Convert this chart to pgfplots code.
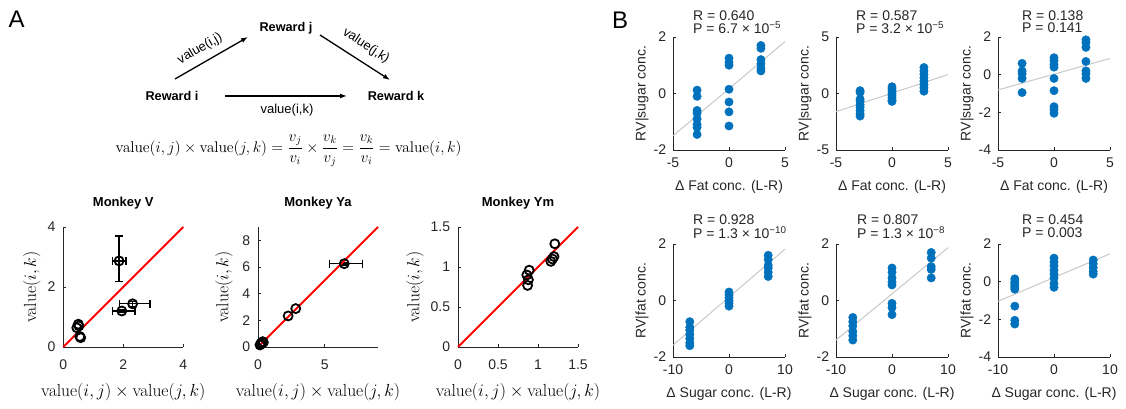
\RequirePackage{fix-cm}
\documentclass[border=0pt]{standalone}
\usepackage[no-math]{fontspec}
\setmainfont{Liberation Sans}
\usepackage{pgfplots}
\pgfplotsset{compat=1.18}
\usetikzlibrary{arrows.meta}
\definecolor{axgray}{RGB}{38,38,38}
\definecolor{mblue}{RGB}{0,114,189}
\definecolor{trend}{RGB}{200,200,200}
\newcommand\fs[1]{\fontsize{#1}{#1}\selectfont}
\pgfplotsset{
  base/.style={
    scale only axis, axis lines=left,
    axis line style={-, draw=axgray, line width=0.8pt},
    every tick/.style={draw=axgray, line width=0.6pt},
    tick align=inside, major tick length=2.5pt,
    tick label style={font={\fs{14}}, text=axgray},
    /pgf/number format/assume math mode=true,
    clip=false, anchor=south west,
  },
  panA/.style={base, width=120pt, height=120pt,
    xticklabel style={yshift=-9pt}, yticklabel style={xshift=-4.3pt},
    title style={font={\fs{13}\bfseries}, anchor=center, at={(axis description cs:0.5,1.15)}},
    xlabel style={font={\fs{17.5}}, anchor=center, at={(axis description cs:0.5,-0.375)}},
    ylabel style={font={\fs{17.5}}, anchor=center},
    xlabel={$\mathrm{value}(i,j)\times\mathrm{value}(j,k)$},
    ylabel={$\mathrm{value}(i,k)$},
    xmin=0, ymin=0},
  panB/.style={base, width=112pt, height=113pt,
    xticklabel style={yshift=-4.5pt}, yticklabel style={xshift=-3.3pt},
    xlabel style={font={\fs{14}}, text=axgray, anchor=center, at={(axis description cs:0.5,-0.33)}},
    ylabel style={font={\fs{14}}, text=axgray, anchor=center, at={(axis description cs:-0.277,0.5)}}},
  aerr/.style={only marks, mark=o, black, mark size=4.5pt, line width=1.8pt,
    error bars/.cd, x dir=both, x explicit, y dir=both, y explicit,
    error bar style={line width=1.3pt, draw=black},
    error mark=-,
    error mark options={rotate=90, mark size=4pt, line width=1.3pt, draw=black}},
  apts/.style={only marks, mark=o, black, mark size=4.5pt, line width=1.8pt},
  bpts/.style={only marks, mark=*, mark size=4.2pt, mark options={draw=mblue, fill=mblue}},
  btr/.style={trend, line width=1pt},
}
\begin{document}
\begin{tikzpicture}[x=1pt,y=1pt]
\useasboundingbox (0,0) rectangle (1126,409);
% ---------- panel letters ----------
\node[font={\fs{24}}] at (16.7,390) {A};
\node[font={\fs{24}}] at (620,389) {B};
% ---------- diagram ----------
\node[font={\fs{12.7}\bfseries}] at (172,313.5) {Reward i};
\node[font={\fs{12.7}\bfseries}] at (286,380.5) {Reward j};
\node[font={\fs{12.7}\bfseries}] at (396,313.5) {Reward k};
\draw[line width=1.3pt, -{Latex[length=7pt,width=5pt]}] (175,330) -- (248,372);
\draw[line width=1.3pt, -{Latex[length=7pt,width=5pt]}] (320,374) -- (390,329);
\draw[line width=1.3pt, -{Latex[length=7pt,width=5pt]}] (225,313) -- (347,313);
\node[font={\fs{13}}, rotate=30] at (200,360) {value(i,j)};
\node[font={\fs{13}}, rotate=-33] at (366,363) {value(j,k)};
\node[font={\fs{13}}] at (287,299) {value(i,k)};
\node[font={\fs{15.5}}] at (288.5,258) {$\displaystyle \mathrm{value}(i,j)\times\mathrm{value}(j,k)=\frac{v_j}{v_i}\times\frac{v_k}{v_j}=\frac{v_k}{v_i}=\mathrm{value}(i,k)$};
% ---------- Monkey V ----------
\begin{axis}[panA, at={(63.3pt,62pt)}, title={Monkey V}, xmax=4, ymax=4,
  xtick={0,2,4}, ytick={0,2,4},
  ylabel style={at={(axis description cs:-0.263,0.5)}}]
\addplot+[aerr] coordinates {
 (1.86,2.87) += (0.23,0.83) -= (0.23,0.69)
 (2.31,1.44) += (0.58,0.08) -= (0.44,0.08)
 (1.95,1.20) += (0.44,0.06) -= (0.31,0.06)
};
\addplot[apts] coordinates {(0.50,0.76) (0.45,0.64) (0.52,0.70) (0.58,0.31) (0.55,0.35)};
\addplot[red, line width=2pt] coordinates {(0,0) (4,4)};
\end{axis}
% ---------- Monkey Ya ----------
\begin{axis}[panA, at={(258pt,62pt)}, title={Monkey Ya}, xmax=9, ymax=9,
  xtick={0,5}, ytick={0,2,4,6,8},
  ylabel style={at={(axis description cs:-0.283,0.5)}}]
\addplot+[aerr] coordinates {
 (6.47,6.25) += (1.37,0.1) -= (1.11,0.1)
};
\addplot[apts] coordinates {(2.83,2.88) (2.26,2.33) (0.15,0.15) (0.25,0.30) (0.35,0.40) (0.20,0.22) (0.40,0.35)};
\addplot[red, line width=2pt] coordinates {(0,0) (9,9)};
\end{axis}
% ---------- Monkey Ym ----------
\begin{axis}[panA, at={(458pt,62pt)}, title={Monkey Ym}, xmax=1.5, ymax=1.5,
  xtick={0,0.5,1,1.5}, ytick={0,0.5,1,1.5},
  ylabel style={at={(axis description cs:-0.358,0.5)}}]
\addplot[apts] coordinates {(1.21,1.29) (1.20,1.13) (1.16,1.07) (1.18,1.10) (0.89,0.96) (0.86,0.90) (0.88,0.84) (0.87,0.77)};
\addplot[red, line width=2pt] coordinates {(0,0) (1.5,1.5)};
\end{axis}
% ---------- B top row ----------
\begin{axis}[panB, at={(673pt,259pt)}, xmin=-5, xmax=5, ymin=-2, ymax=2,
  xtick={-5,0,5}, ytick={-2,0,2},
  xlabel={Δ Fat conc. (L-R)}, ylabel={RV|sugar conc.}]
\addplot[btr] coordinates {(-5,-1.5) (5,1.84)};
\addplot[bpts] coordinates {
 (-2.85,0.12) (-2.85,-0.1) (-2.85,-0.6) (-2.85,-0.7) (-2.85,-0.9) (-2.85,-1.1) (-2.85,-1.2) (-2.85,-1.45)
 (0,1.25) (0,1.1) (0,1.0) (0,0.15) (0,-0.3) (0,-0.65) (0,-1.15)
 (2.85,1.7) (2.85,1.6) (2.85,1.2) (2.85,1.05) (2.85,0.9) (2.85,0.8)};
\end{axis}
\begin{axis}[panB, at={(836pt,259pt)}, xmin=-5, xmax=5, ymin=-5, ymax=5,
  xtick={-5,0,5}, ytick={-5,0,5},
  xlabel={Δ Fat conc. (L-R)}, ylabel={RV|sugar conc.}]
\addplot[btr] coordinates {(-5,-1.61) (5,1.67)};
\addplot[bpts] coordinates {
 (-2.85,0.25) (-2.85,0.1) (-2.85,-0.5) (-2.85,-0.7) (-2.85,-1.0) (-2.85,-1.2) (-2.85,-1.5) (-2.85,-1.8) (-2.85,-2.0)
 (0,0.6) (0,0.4) (0,0.2) (0,0) (0,-0.2) (0,-0.4) (0,-0.6) (0,-0.7)
 (2.85,2.3) (2.85,2.0) (2.85,1.7) (2.85,1.4) (2.85,1.1) (2.85,0.8) (2.85,0.5) (2.85,0.2)};
\end{axis}
\begin{axis}[panB, at={(998pt,259pt)}, xmin=-5, xmax=5, ymin=-4, ymax=2,
  xtick={-5,0,5}, ytick={-4,-2,0,2},
  xlabel={Δ Fat conc. (L-R)}, ylabel={RV|sugar conc.}]
\addplot[btr] coordinates {(-5,-0.81) (5,0.86)};
\addplot[bpts] coordinates {
 (-2.85,0.6) (-2.85,0.2) (-2.85,0.05) (-2.85,-0.2) (-2.85,-0.95)
 (0,0.9) (0,0.75) (0,0.55) (0,0.4) (0,-0.2) (0,-0.85) (0,-1.7) (0,-1.85) (0,-2.05)
 (2.85,1.85) (2.85,1.7) (2.85,1.45) (2.85,0.7) (2.85,0.2) (2.85,0.05) (2.85,-0.2)};
\end{axis}
% ---------- B bottom row ----------
\begin{axis}[panB, at={(673pt,52pt)}, xmin=-10, xmax=10, ymin=-2, ymax=2,
  xtick={-10,0,10}, ytick={-2,0,2},
  xlabel={Δ Sugar conc. (L-R)}, ylabel={RV|fat conc.}]
\addplot[btr] coordinates {(-10,-1.58) (10,1.82)};
\addplot[bpts] coordinates {
 (-7,-0.75) (-7,-0.95) (-7,-1.05) (-7,-1.2) (-7,-1.35) (-7,-1.5) (-7,-1.6)
 (0,0.3) (0,0.2) (0,0.1) (0,0) (0,-0.1) (0,-0.2)
 (7,1.6) (7,1.45) (7,1.25) (7,1.15) (7,1.0) (7,0.85)};
\end{axis}
\begin{axis}[panB, at={(836pt,52pt)}, xmin=-10, xmax=10, ymin=-2, ymax=2,
  xtick={-10,0,10}, ytick={-2,0,2},
  xlabel={Δ Sugar conc. (L-R)}, ylabel={RV|fat conc.}]
\addplot[btr] coordinates {(-10,-1.40) (10,1.87)};
\addplot[bpts] coordinates {
 (-7,-0.6) (-7,-0.75) (-7,-0.9) (-7,-1.1) (-7,-1.25) (-7,-1.4)
 (0,1.15) (0,1.0) (0,0.8) (0,0.65) (0,0.55) (0,-0.1) (0,-0.25) (0,-0.5)
 (7,1.7) (7,1.5) (7,1.2) (7,1.1) (7,0.8)};
\end{axis}
\begin{axis}[panB, at={(998pt,52pt)}, xmin=-10, xmax=10, ymin=-4, ymax=2,
  xtick={-10,0,10}, ytick={-4,-2,0,2},
  xlabel={Δ Sugar conc. (L-R)}, ylabel={RV|fat conc.}]
\addplot[btr] coordinates {(-10,-1.04) (10,1.48)};
\addplot[bpts] coordinates {
 (-7,0.15) (-7,0) (-7,-0.1) (-7,-0.2) (-7,-0.3) (-7,-0.4) (-7,-1.3) (-7,-2.05) (-7,-2.25)
 (0,1.25) (0,1.05) (0,0.85) (0,0.6) (0,0.4) (0,0.2) (0,-0.1) (0,-0.3)
 (7,1.15) (7,0.95) (7,0.75) (7,0.55) (7,0.4)};
\end{axis}
% ---------- R / P annotations ----------
\begin{scope}[every node/.style={anchor=west, font={\fs{14}}, text=axgray, inner sep=0pt}]
\node at (693,393) {R = 0.640};
\node at (693,381.5) {P = 6.7 × 10\textsuperscript{−5}};
\node at (856,393) {R = 0.587};
\node at (856,381.5) {P = 3.2 × 10\textsuperscript{−5}};
\node at (1022,393) {R = 0.138};
\node at (1022,381.5) {P = 0.141};
\node at (693,189) {R = 0.928};
\node at (693,176) {P = 1.3 × 10\textsuperscript{−10}};
\node at (857,189) {R = 0.807};
\node at (857,176) {P = 1.3 × 10\textsuperscript{−8}};
\node at (1022,189) {R = 0.454};
\node at (1022,176) {P = 0.003};
\end{scope}
\end{tikzpicture}
\end{document}
